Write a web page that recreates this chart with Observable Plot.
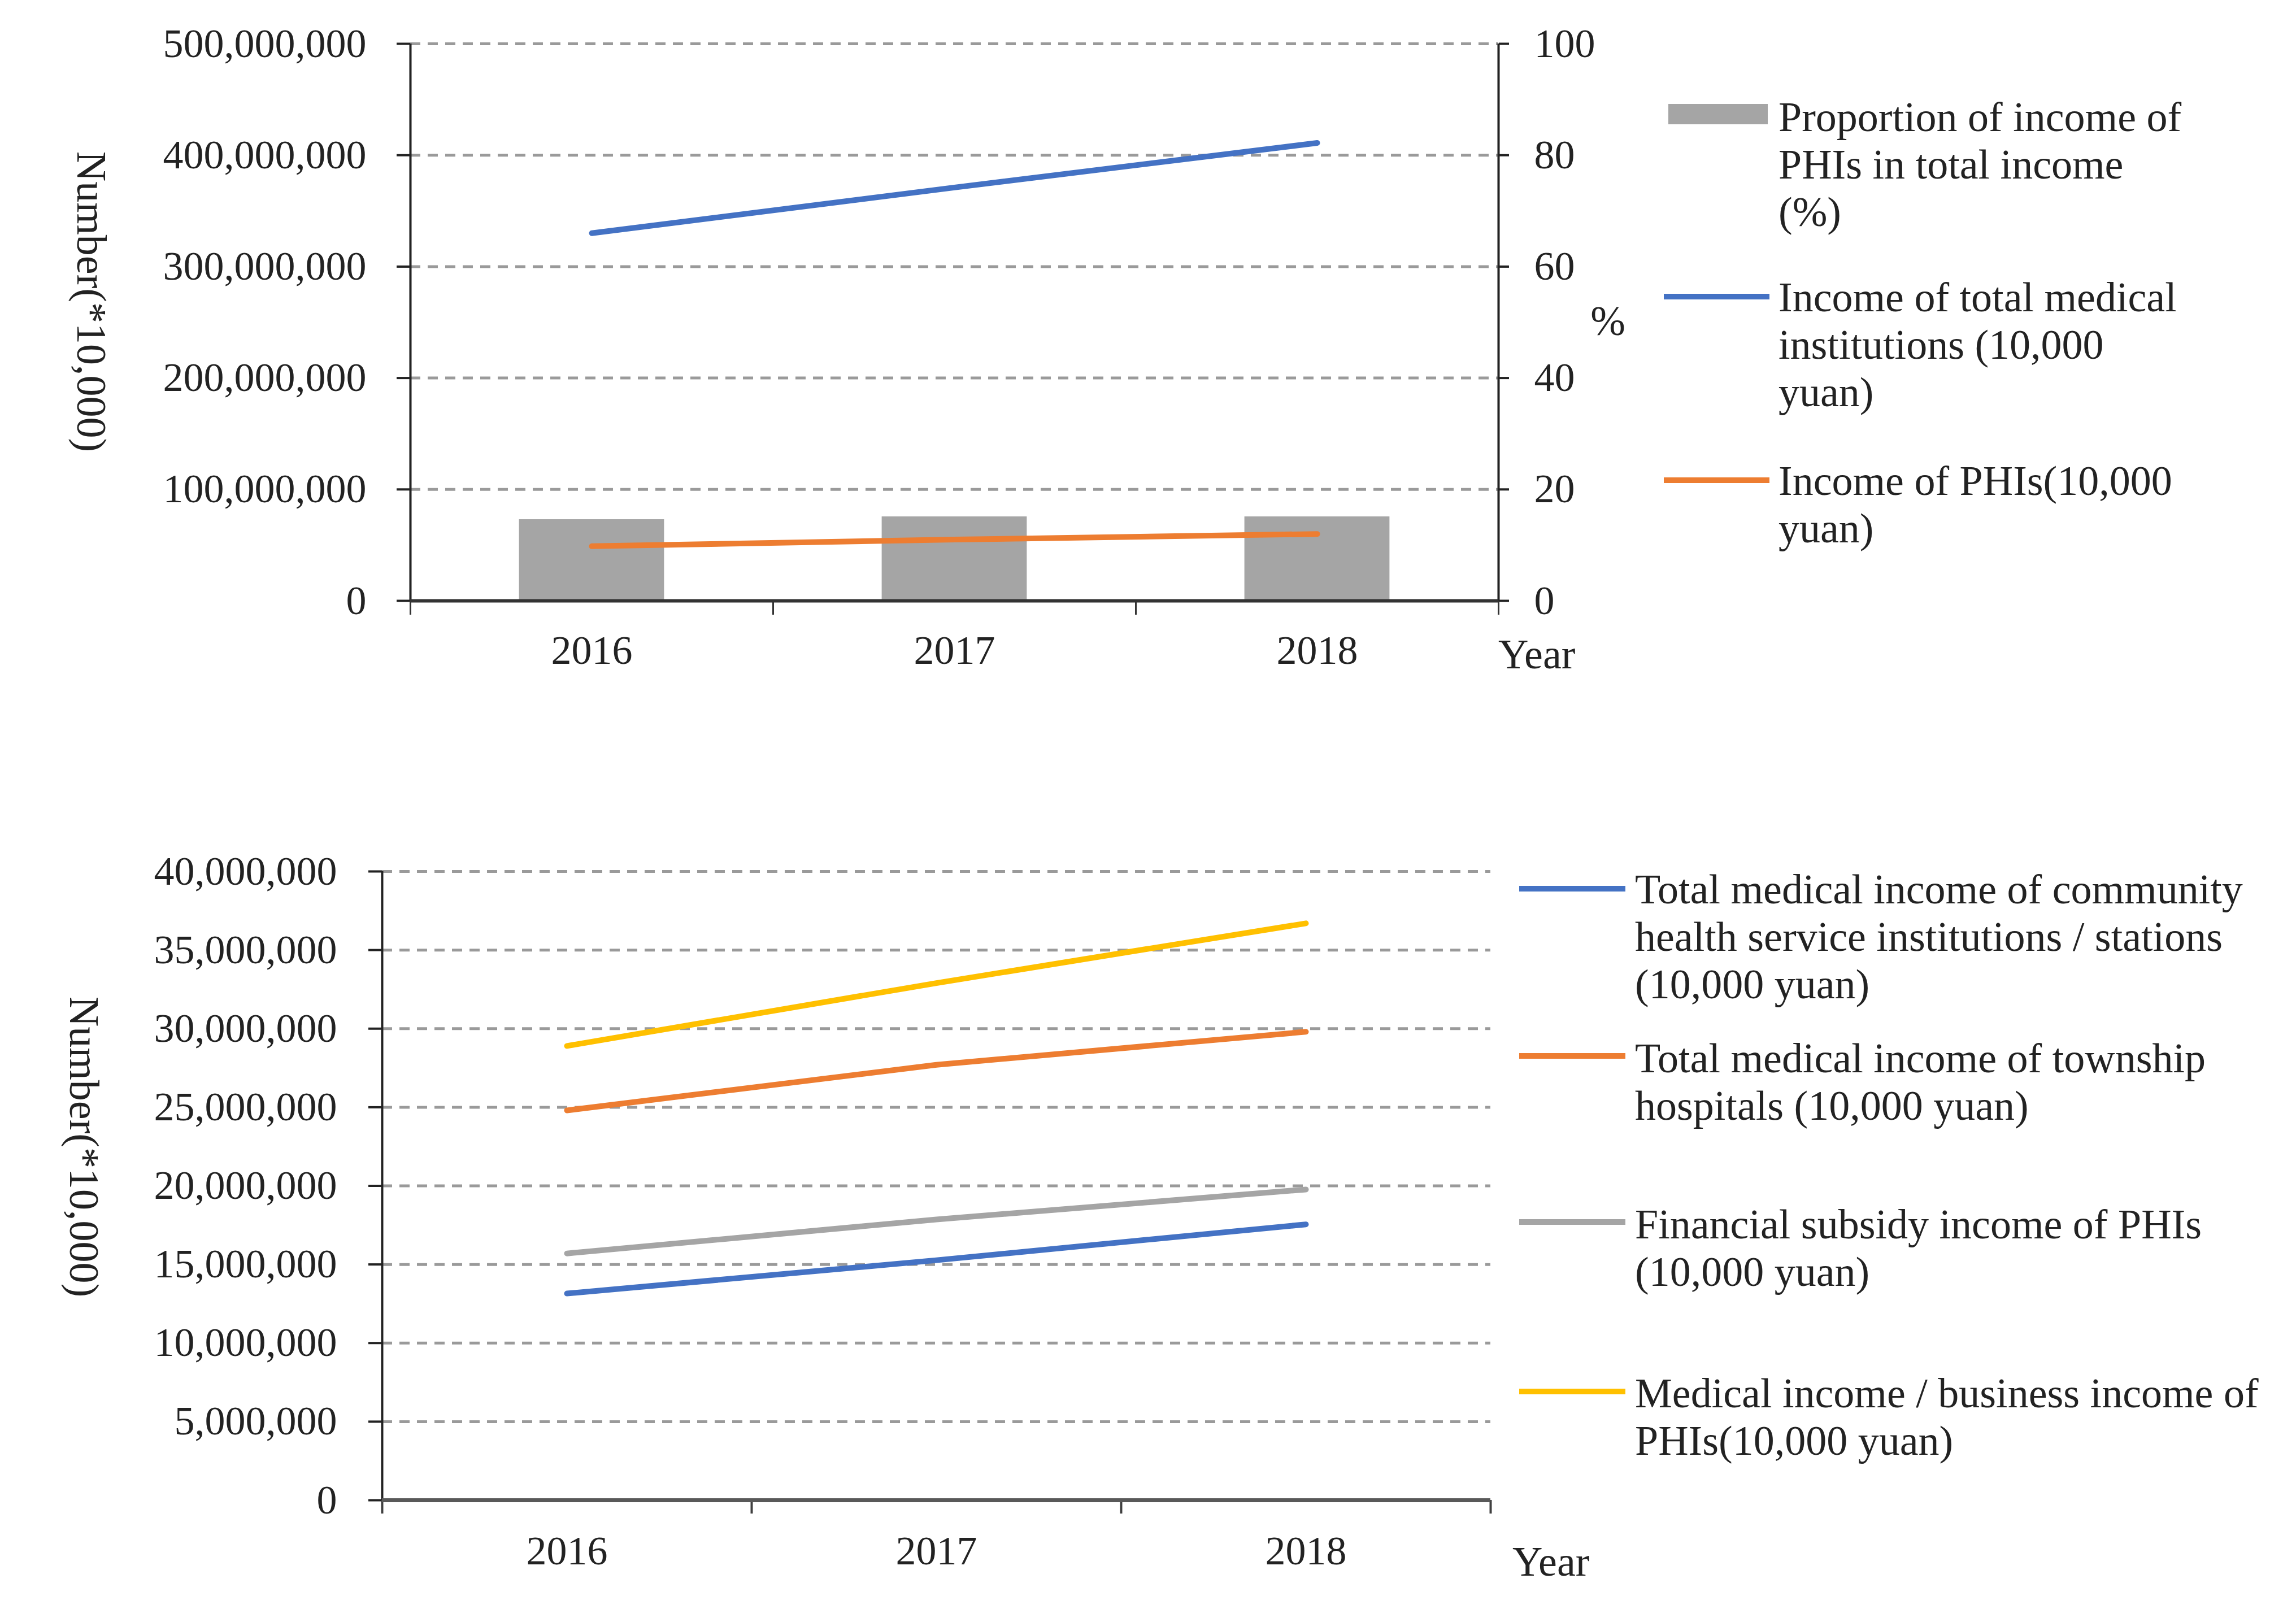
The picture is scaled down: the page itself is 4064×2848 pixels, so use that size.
<!DOCTYPE html>
<html><head><meta charset="utf-8">
<script src="https://cdn.jsdelivr.net/npm/d3@7"></script>
<script src="https://cdn.jsdelivr.net/npm/@observablehq/plot@0.6"></script>
<style>
body{margin:0;background:#fff;}
#fig{position:relative;width:4064px;height:2848px;overflow:hidden;font-family:"Liberation Serif","Times New Roman",serif;color:#222;background:#fff;}
.abs{position:absolute;white-space:nowrap;}
.lg{position:absolute;font-size:74px;line-height:84px;white-space:nowrap;color:#222;}
.sw{position:absolute;}
.ttl{position:absolute;font-size:74px;white-space:nowrap;color:#222;}
</style></head><body><div id="fig"></div>
<script>
// ---------- data ----------
const years = [2016, 2017, 2018];
// top chart
const proportionPct = [14.6, 15.1, 15.1];                 // % (right axis)
const incomeTotal = [330e6, 371e6, 411e6];                // 10,000 yuan
const incomePHI = [49e6, 55e6, 60e6];                     // 10,000 yuan
// bottom chart
const communityIncome = [13.15e6, 15.27e6, 17.55e6];
const townshipIncome = [24.8e6, 27.7e6, 29.8e6];
const subsidyIncome = [15.7e6, 17.86e6, 19.77e6];
const medicalPHIIncome = [28.9e6, 32.9e6, 36.7e6];
// ticks
const topLeftTicks = [0, 100e6, 200e6, 300e6, 400e6, 500e6];
const topRightTicks = [0, 20, 40, 60, 80, 100];
const bottomTicks = [0, 5e6, 10e6, 15e6, 20e6, 25e6, 30e6, 35e6, 40e6];
const xDomain = [2015.5, 2018.5];
const xBoundaries = [2015.5, 2016.5, 2017.5, 2018.5];
// legends
const topLegend = [
  {type: "rect", color: "#A5A5A5", lines: ["Proportion of income of", "PHIs in total income", "(%)"]},
  {type: "line", color: "#4472C4", lines: ["Income of total medical", "institutions (10,000", "yuan)"]},
  {type: "line", color: "#ED7D31", lines: ["Income of PHIs(10,000", "yuan)"]}
];
const bottomLegend = [
  {color: "#4472C4", lines: ["Total medical income of community", "health service institutions / stations", "(10,000 yuan)"]},
  {color: "#ED7D31", lines: ["Total medical income of township", "hospitals (10,000 yuan)"]},
  {color: "#A5A5A5", lines: ["Financial subsidy income of PHIs", "(10,000 yuan)"]},
  {color: "#FFC000", lines: ["Medical income / business income of", "PHIs(10,000 yuan)"]}
];

const topData = years.map((year, i) => ({year, pct: proportionPct[i], total: incomeTotal[i], phi: incomePHI[i]}));
const bottomData = years.map((year, i) => ({year, community: communityIncome[i], township: townshipIncome[i], subsidy: subsidyIncome[i], medical: medicalPHIIncome[i]}));

const fig = document.getElementById("fig");
const font = '"Liberation Serif","Times New Roman",serif';
const pctScale = 5e6; // 100 % on the right axis == 500,000,000 on the left axis
const fmt = d3.format(",");
const gridStyle = {stroke: "#9a9a9a", strokeOpacity: 1, strokeWidth: 5, strokeDasharray: "18,13"};

const topChart = Plot.plot({
  width: 2960, height: 1250,
  marginLeft: 726, marginRight: 308, marginTop: 77, marginBottom: 187,
  style: {fontFamily: font, fontSize: "72px", color: "#222", background: "transparent", overflow: "visible"},
  x: {domain: xDomain},
  y: {domain: [0, 500e6]},
  marks: [
    Plot.gridY(topLeftTicks.filter(d => d > 0), gridStyle),
    Plot.rectY(topData, {x1: d => d.year - 0.2, x2: d => d.year + 0.2, y1: 0, y2: d => d.pct * pctScale, fill: "#A5A5A5"}),
    Plot.lineY(topData, {x: "year", y: "total", stroke: "#4472C4", strokeWidth: 10}),
    Plot.lineY(topData, {x: "year", y: "phi", stroke: "#ED7D31", strokeWidth: 10}),
    Plot.axisY(topLeftTicks, {anchor: "left", tickSize: 24, tickPadding: 54, tickFormat: fmt, label: null, strokeWidth: 4}),
    Plot.axisY(topRightTicks.map(d => d * pctScale), {anchor: "right", tickSize: 18, tickPadding: 45, tickFormat: d => String(d / pctScale), label: null, strokeWidth: 4}),
    Plot.axisX(xBoundaries, {anchor: "bottom", tickSize: 25, tickFormat: () => "", label: null, strokeWidth: 3, stroke: "#333"}),
    Plot.axisX(years, {anchor: "bottom", tickSize: 0, tickPadding: 60, tickFormat: d => String(d), label: null}),
    Plot.ruleX([xDomain[0]], {stroke: "#222", strokeWidth: 4}),
    Plot.ruleX([xDomain[1]], {stroke: "#222", strokeWidth: 4}),
    Plot.ruleY([0], {stroke: "#333", strokeWidth: 6})
  ]
});

const bottomChart = Plot.plot({
  width: 2900, height: 1398,
  marginLeft: 676, marginRight: 262, marginTop: 92, marginBottom: 193,
  style: {fontFamily: font, fontSize: "72px", color: "#222", background: "transparent", overflow: "visible"},
  x: {domain: xDomain},
  y: {domain: [0, 40e6]},
  marks: [
    Plot.gridY(bottomTicks.filter(d => d > 0), gridStyle),
    Plot.lineY(bottomData, {x: "year", y: "community", stroke: "#4472C4", strokeWidth: 10}),
    Plot.lineY(bottomData, {x: "year", y: "township", stroke: "#ED7D31", strokeWidth: 10}),
    Plot.lineY(bottomData, {x: "year", y: "subsidy", stroke: "#A5A5A5", strokeWidth: 10}),
    Plot.lineY(bottomData, {x: "year", y: "medical", stroke: "#FFC000", strokeWidth: 10}),
    Plot.axisY(bottomTicks, {anchor: "left", tickSize: 24, tickPadding: 56, tickFormat: fmt, label: null, strokeWidth: 4}),
    Plot.axisX(xBoundaries, {anchor: "bottom", tickSize: 24, tickFormat: () => "", label: null, strokeWidth: 4, stroke: "#404040"}),
    Plot.axisX(years, {anchor: "bottom", tickSize: 0, tickPadding: 62, tickFormat: d => String(d), label: null}),
    Plot.ruleX([xDomain[0]], {stroke: "#222", strokeWidth: 4}),
    Plot.ruleY([0], {stroke: "#595959", strokeWidth: 7})
  ]
});

function place(el, left, top) {
  const w = document.createElement("div");
  w.className = "abs";
  w.style.left = left + "px";
  w.style.top = top + "px";
  w.appendChild(el);
  fig.appendChild(w);
  return w;
}
place(topChart, 0, 0);
place(bottomChart, 0, 1450);

function text(str, left, top, cls, transform) {
  const d = document.createElement("div");
  d.className = cls;
  d.textContent = str;
  d.style.left = left + "px";
  d.style.top = top + "px";
  if (transform) d.style.transform = transform;
  fig.appendChild(d);
  return d;
}
// axis titles
text("Number(*10,000)", 161, 534, "ttl", "translate(-50%,-50%) rotate(90deg)");
text("Number(*10,000)", 148, 2030, "ttl", "translate(-50%,-50%) rotate(90deg)");
text("%", 2846, 568, "ttl", "translate(-50%,-50%)");
text("Year", 2652, 1158, "ttl", "translateY(-50%)");
text("Year", 2677, 2764, "ttl", "translateY(-50%)");

// legends
function legendItem(entry, swLeft, swWidth, swY, textLeft, textTop) {
  const s = document.createElement("div");
  s.className = "sw";
  s.style.background = entry.color;
  s.style.left = swLeft + "px";
  s.style.width = swWidth + "px";
  if (entry.type === "rect") {
    s.style.top = (swY - 18) + "px";
    s.style.height = "36px";
  } else {
    s.style.top = (swY - 5) + "px";
    s.style.height = "10px";
  }
  fig.appendChild(s);
  const t = document.createElement("div");
  t.className = "lg";
  t.style.left = textLeft + "px";
  t.style.top = textTop + "px";
  t.innerHTML = entry.lines.map(l => l.replace(/&/g, "&amp;").replace(/</g, "&lt;")).join("<br>");
  fig.appendChild(t);
}
const topSwY = [202, 525, 850];
const topTextTop = [165, 484, 809];
topLegend.forEach((e, i) => legendItem(e, e.type === "rect" ? 2953 : 2945, e.type === "rect" ? 176 : 187, topSwY[i], 3148, topTextTop[i]));
const botSwY = [1573, 1869, 2163, 2463];
const botTextTop = [1532, 1831, 2125, 2424];
bottomLegend.forEach((e, i) => legendItem(e, 2689, 188, botSwY[i], 2894, botTextTop[i]));
</script></body></html>
